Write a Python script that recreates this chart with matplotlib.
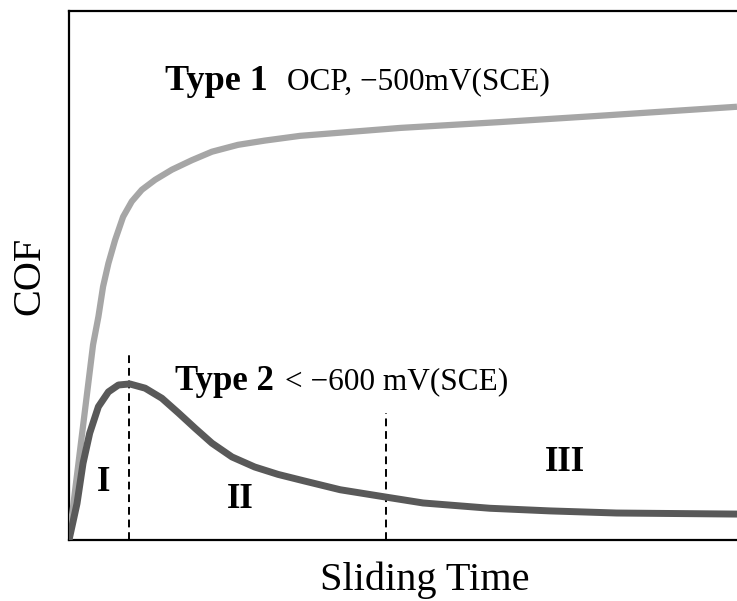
import numpy as np
import matplotlib.pyplot as plt

plt.rcParams['font.family'] = ['Liberation Serif', 'DejaVu Serif']

# Type 1 curve (OCP, -500 mV)
type1_t = [0, 3.6, 4.4, 5.1, 5.9, 6.9, 8.1, 9.4, 10.9, 12.9, 15.4, 18.4, 21.4,
           25.3, 29.3, 34.6, 49.6, 64.5, 79.5, 100]
type1_cof = [0, 36.9, 42.2, 47.9, 52.3, 56.7, 61.1, 64.0, 66.2, 68.1, 70.0, 71.8, 73.4,
             74.7, 75.5, 76.4, 77.9, 79.0, 80.2, 81.9]

# Type 2 curve (< -600 mV)
type2_t = [0, 1.2, 2.1, 3.1, 4.4, 5.9, 7.4, 9.1, 11.4, 13.9, 16.4, 18.9, 21.4, 24.4,
           27.8, 31.3, 35.1, 40.6, 47.5, 53.0, 63.0, 72.0, 82.0, 100]
type2_cof = [0, 6.9, 14.5, 20.2, 25.2, 28.0, 29.3, 29.5, 28.7, 26.8, 24.0, 21.1, 18.3, 15.7,
             13.8, 12.4, 11.2, 9.5, 8.1, 7.0, 6.0, 5.5, 5.1, 4.9]

# stage boundaries (x, top of dashed line)
stage_x = [9.0, 47.5]
stage_top = [35.0, 24.0]
stage_labels = ['I', 'II', 'III']
stage_pos = [(5.2, 10.8), (25.6, 7.6), (74.3, 14.6)]

fig = plt.figure(figsize=(7.37, 6.01), dpi=100)
ax = fig.add_axes([69 / 737, 61 / 601, 668 / 737, 529 / 601])

ax.plot(type1_t, type1_cof, color='#a6a6a6', lw=4.5, solid_capstyle='butt',
        solid_joinstyle='round', zorder=3)
ax.plot(type2_t, type2_cof, color='#595959', lw=5, solid_capstyle='butt',
        solid_joinstyle='round', zorder=3)

for x, top in zip(stage_x, stage_top):
    ax.plot([x, x], [0, top], color='black', lw=1.4, ls=(0, (4, 2.5)), zorder=2)

for lab, (x, y) in zip(stage_labels, stage_pos):
    ax.text(x, y, lab, fontsize=25, fontweight='bold', ha='center', va='center')

ax.text(14.4, 86.6, 'Type 1', fontsize=26, fontweight='bold', va='center')
ax.text(32.6, 86.6, 'OCP, \u2212500mV(SCE)', fontsize=22.5, va='center')
ax.text(15.9, 29.9, 'Type 2', fontsize=25, fontweight='bold', va='center')
ax.text(32.3, 29.9, '< \u2212600 mV(SCE)', fontsize=22.5, va='center')

ax.set_xlim(0, 100)
ax.set_ylim(0, 100)
ax.set_xticks([])
ax.set_yticks([])
for side in ['left', 'bottom', 'top']:
    ax.spines[side].set_linewidth(1.6)
ax.spines['right'].set_visible(False)

ax.set_xlabel('Sliding Time', fontsize=29, va='center')
ax.set_ylabel('COF', fontsize=29, va='center')
ax.xaxis.set_label_coords(0.533, -0.076)
ax.yaxis.set_label_coords(-0.058, 0.5)

fig.savefig('out.png', dpi=100)
